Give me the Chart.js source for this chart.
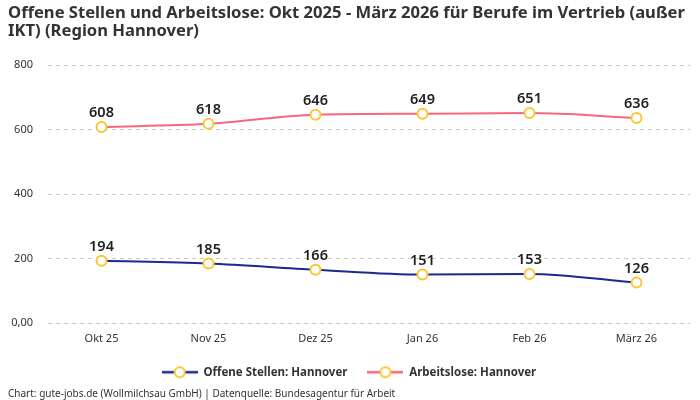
<!DOCTYPE html>
<html>
<head>
<meta charset="utf-8">
<script src="https://cdn.jsdelivr.net/npm/chart.js@4"></script>
<style>
  body { margin: 0; background: #fff; }
  #wrap { width: 700px; height: 400px; }
</style>
</head>
<body>
<div id="wrap"><canvas id="chart" width="700" height="400"></canvas></div>
<script>
// chart data
const months = ['Okt 25', 'Nov 25', 'Dez 25', 'Jan 26', 'Feb 26', 'März 26'];
const offeneStellen = [194, 185, 166, 151, 153, 126];
const arbeitslose = [608, 618, 646, 649, 651, 636];
const yTicks = [0, 200, 400, 600, 800];

const FONT = "'Noto Sans', sans-serif";
const navy = '#1b2a8c';
const pink = '#f7667e';
const yellow = '#fcc630';

// legend marker: line with hollow circle
function legendMarker(color) {
    const c = document.createElement('canvas');
    c.width = 36; c.height = 14;
    const g = c.getContext('2d');
    g.strokeStyle = color;
    g.lineWidth = 2.5;
    g.beginPath(); g.moveTo(0, 7); g.lineTo(36, 7); g.stroke();
    g.fillStyle = '#fff';
    g.strokeStyle = yellow;
    g.lineWidth = 2;
    g.beginPath(); g.arc(18, 7, 5, 0, Math.PI * 2); g.fill(); g.stroke();
    return c;
}
const markers = [legendMarker(navy), legendMarker(pink)];

// value labels above each point
const valueLabels = {
    id: 'valueLabels',
    afterDatasetsDraw(chart) {
        const ctx = chart.ctx;
        ctx.save();
        ctx.font = `600 14.5px ${FONT}`;
        ctx.fillStyle = '#222';
        ctx.textAlign = 'center';
        ctx.textBaseline = 'alphabetic';
        chart.data.datasets.forEach((ds, i) => {
            chart.getDatasetMeta(i).data.forEach((pt, j) => {
                ctx.fillText(ds.data[j], pt.x, pt.y - 10);
            });
        });
        ctx.restore();
    }
};

const pointOpts = {
    pointRadius: 5,
    pointBorderWidth: 2,
    pointBorderColor: yellow,
    pointBackgroundColor: '#fff'
};

new Chart(document.getElementById('chart').getContext('2d'), {
    type: 'line',
    data: {
        labels: months,
        datasets: [{
            label: 'Offene Stellen: Hannover',
            data: offeneStellen,
            borderColor: navy,
            borderWidth: 2,
            tension: 0.4,
            cubicInterpolationMode: 'monotone',
            ...pointOpts
        }, {
            label: 'Arbeitslose: Hannover',
            data: arbeitslose,
            borderColor: pink,
            borderWidth: 2,
            tension: 0.4,
            cubicInterpolationMode: 'monotone',
            ...pointOpts
        }]
    },
    options: {
        responsive: false,
        animation: false,
        layout: { padding: { left: 8, right: 10, top: 0, bottom: 0 } },
        scales: {
            x: {
                offset: true,
                grid: { display: false },
                border: { display: false },
                ticks: { color: '#333', font: { family: FONT, size: 11 }, padding: 1 }
            },
            y: {
                min: 0,
                max: 800,
                afterBuildTicks: axis => { axis.ticks = yTicks.map(v => ({ value: v })); },
                afterFit: axis => { axis.width = 40; },
                grid: { color: '#c8c8c8', tickLength: 0 },
                border: { display: false, dash: [4, 4] },
                ticks: {
                    color: '#333',
                    font: { family: FONT, size: 11 },
                    padding: 15,
                    callback: v => v === 0 ? '0,00' : v
                }
            }
        },
        plugins: {
            title: {
                display: true,
                align: 'start',
                text: ['Offene Stellen und Arbeitslose: Okt 2025 - März 2026 für Berufe im Vertrieb (außer', 'IKT) (Region Hannover)'],
                color: '#333',
                font: { family: FONT, size: 16.6, weight: 'bold', lineHeight: '18px' },
                padding: { top: 4, bottom: 25 }
            },
            subtitle: {
                display: true,
                position: 'bottom',
                align: 'start',
                text: 'Chart: gute-jobs.de (Wollmilchsau GmbH) | Datenquelle: Bundesagentur für Arbeit',
                color: '#333',
                font: { family: FONT, size: 10 },
                padding: { top: 0, bottom: 0 }
            },
            legend: {
                position: 'bottom',
                labels: {
                    usePointStyle: true,
                    pointStyleWidth: 36,
                    color: '#333',
                    font: { family: FONT, size: 11.5, weight: 'bold' },
                    padding: 20,
                    generateLabels: chart => chart.data.datasets.map((ds, i) => ({
                        text: ds.label,
                        pointStyle: markers[i],
                        fontColor: '#333',
                        datasetIndex: i,
                        hidden: false,
                        lineWidth: 0
                    }))
                }
            },
            tooltip: { enabled: false }
        }
    },
    plugins: [valueLabels]
});
</script>
</body>
</html>
